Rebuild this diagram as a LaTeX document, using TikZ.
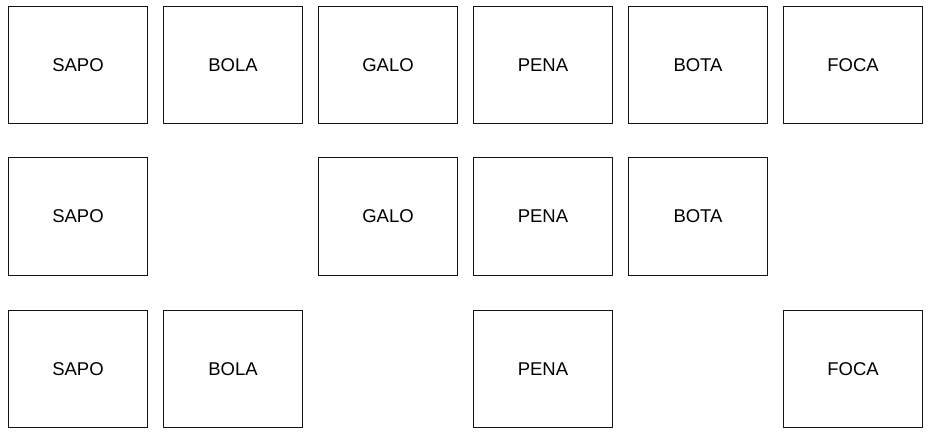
\documentclass[tikz,border=0pt]{standalone}
\usepackage{fontspec}
\setmainfont{Liberation Sans}
\usetikzlibrary{positioning}
\definecolor{wordline}{RGB}{20,20,20}

\begin{document}
\begin{tikzpicture}[x=1pt,y=-1pt,
            card/.style={rectangle,draw=wordline,line width=1.3pt,fill=white,
                         minimum width=139.5pt,minimum height=117.5pt,
                         inner sep=0pt,align=center,
                         font=\fontsize{18.5}{22}\selectfont}]
            \useasboundingbox (0,0) rectangle (931,436);
            % first row
            \node[card] (sapoA) at (78,65)  {SAPO};
            \node[card] (bolaA) at (233,65) {BOLA};
            \node[card] (galoA) at (388,65) {GALO};
            \node[card] (penaA) at (543,65) {PENA};
            \node[card] (botaA) at (698,65) {BOTA};
            \node[card] (focaA) at (853,65) {FOCA};
            % second row
            \node[card] (sapoB) at (78,216.5)  {SAPO};
            \node[card] (galoB) at (388,216.5) {GALO};
            \node[card] (penaB) at (543,216.5) {PENA};
            \node[card] (botaB) at (698,216.5) {BOTA};
            % third row
            \node[card] (sapoC) at (78,369)  {SAPO};
            \node[card] (bolaC) at (233,369) {BOLA};
            \node[card] (penaC) at (543,369) {PENA};
            \node[card] (focaC) at (853,369) {FOCA};
        \end{tikzpicture}
\end{document}
